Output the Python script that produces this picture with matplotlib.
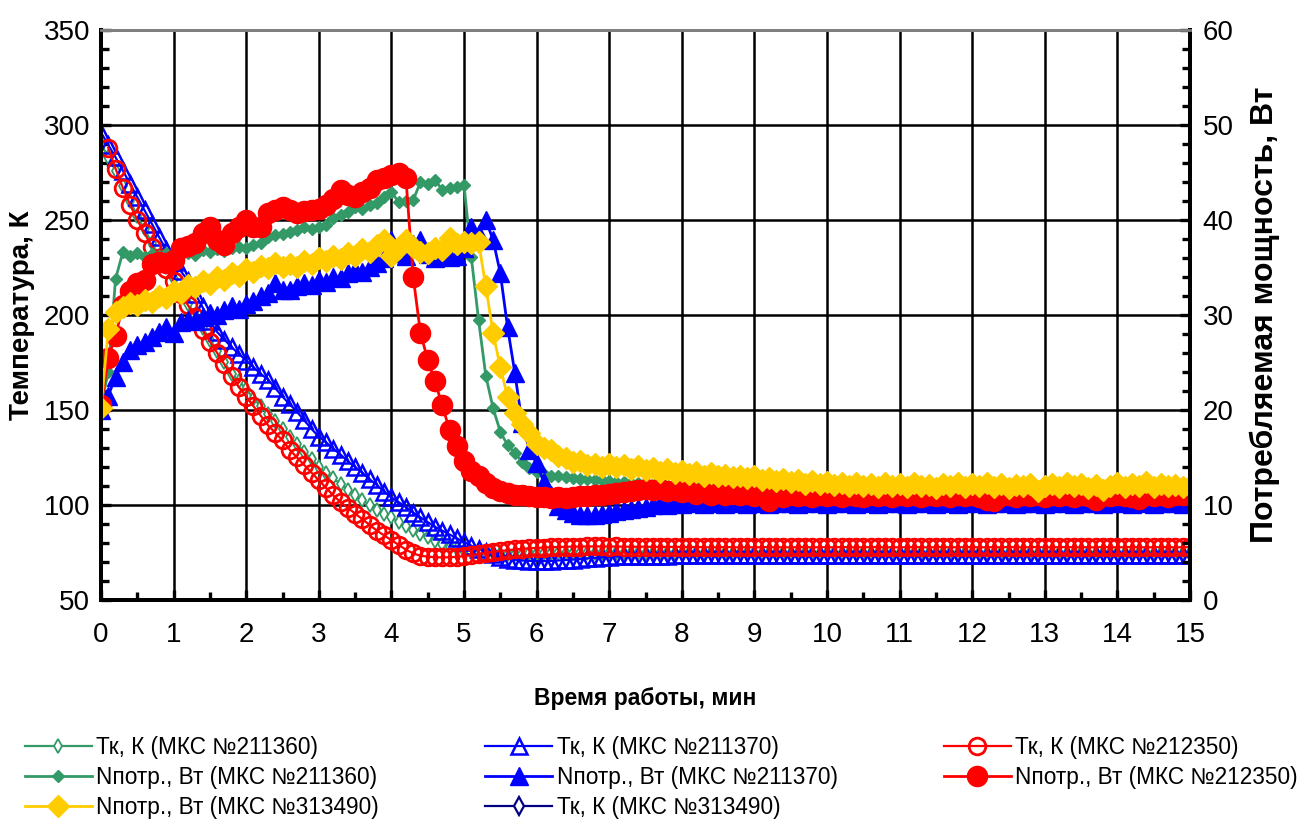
import numpy as np
import matplotlib
matplotlib.use('Agg')
import matplotlib.pyplot as plt
from matplotlib.ticker import MultipleLocator

plt.rcParams['font.family'] = ['Liberation Sans', 'DejaVu Sans']

# время, мин (шаг 0.1)
t = np.round(np.arange(151) * 0.1, 1)

# Тк, К (МКС №211360)
tk_211360 = [
    290, 283, 276, 268, 260, 252, 245, 238, 231, 225,
    219, 213, 206, 200, 193, 187, 181, 175, 169, 165,
    161, 156, 152, 148, 144, 140, 136, 132, 128, 124,
    120, 117, 114, 111, 108, 105, 102.5, 100, 97.5, 95.5,
    93.5, 91, 89, 87, 85, 83, 81, 79.5, 78, 77,
    76, 75.5, 75, 74.7, 74.5, 74.4, 74.3, 74.3, 74.4, 74.5,
    74.6, 74.7, 74.6, 74.8, 74.7, 74.8, 74.9, 74.8, 74.9, 74.8,
    74.9, 74.8, 75.0, 74.9, 74.8, 74.9, 74.8, 74.9, 74.8, 74.9,
    74.8, 74.9, 74.7, 74.8, 74.9, 74.8, 74.7, 74.8, 74.9, 74.8,
    74.7, 74.8, 74.9, 74.8, 74.7, 74.8, 74.8, 74.9, 74.8, 74.7,
    74.8, 74.9, 74.8, 74.7, 74.8, 74.9, 74.8, 74.7, 74.8, 74.8,
    74.9, 74.8, 74.7, 74.8, 74.9, 74.8, 74.8, 74.7, 74.8, 74.9,
    74.8, 74.7, 74.8, 74.9, 74.8, 74.7, 74.8, 74.8, 74.9, 74.8,
    74.7, 74.8, 74.9, 74.8, 74.8, 74.7, 74.8, 74.9, 74.8, 74.7,
    74.8, 74.9, 74.8, 74.7, 74.8, 74.8, 74.9, 74.8, 74.7, 74.8,
    74.8]

# Тк, К (МКС №211370)
tk_211370 = [
    296, 289.5, 283, 276, 269, 262, 255, 248, 241, 234,
    228, 223, 218, 211, 204, 197, 191, 187, 183, 179.5,
    176, 172.5, 169, 166, 161.5, 157, 153, 149, 144.5, 140,
    136, 133, 129.5, 126.5, 123, 120, 117, 113.5, 110.5, 107,
    104, 101.5, 99, 96, 93.5, 91, 88.5, 86.5, 84.5, 82.5,
    80.5, 78.5, 77, 75.5, 74, 72.8, 71.8, 71.2, 70.8, 70.6,
    70.5, 70.5, 70.6, 70.8, 71.0, 71.3, 71.6, 71.9, 72.2, 72.5,
    72.7, 72.9, 73.0, 73.1, 73.2, 73.3, 73.3, 73.4, 73.4, 73.5,
    73.5, 73.6, 73.5, 73.6, 73.7, 73.6, 73.7, 73.6, 73.7, 73.8,
    73.7, 73.8, 73.7, 73.8, 73.7, 73.8, 73.9, 73.8, 73.7, 73.8,
    73.8, 73.7, 73.8, 73.9, 73.8, 73.7, 73.8, 73.8, 73.9, 73.8,
    73.7, 73.8, 73.9, 73.8, 73.7, 73.8, 73.8, 73.7, 73.9, 73.8,
    73.8, 73.7, 73.8, 73.9, 73.8, 73.8, 73.7, 73.8, 73.9, 73.8,
    73.7, 73.8, 73.8, 73.9, 73.8, 73.7, 73.8, 73.9, 73.8, 73.8,
    73.7, 73.8, 73.9, 73.8, 73.7, 73.8, 73.8, 73.9, 73.8, 73.7,
    73.8]

# Тк, К (МКС №212350)
tk_212350 = [
    np.nan, 288, 277, 267, 258, 250, 243, 236, 230, 224,
    218, 211, 205, 199, 192, 186, 180, 174, 168, 162,
    157, 152, 147, 142, 138, 134, 129, 125, 121, 117,
    113, 109, 105, 101.5, 98.5, 95.5, 92.5, 89.5, 86.5, 84,
    81.5, 79, 76.5, 74.5, 73.3, 72.8, 72.5, 72.4, 72.5, 72.7,
    73.1, 73.6, 74.2, 74.8, 75.3, 75.8, 76.2, 76.6, 76.9, 77.2,
    77.4, 77.6, 77.8, 77.9, 78.0, 78.1, 78.1, 78.2, 78.2, 78.2,
    78.1, 78.2, 78.0, 78.1, 78.0, 78.1, 77.9, 78.0, 77.9, 78.0,
    77.9, 77.8, 77.9, 77.8, 77.7, 77.8, 77.9, 77.8, 77.7, 77.8,
    77.7, 77.8, 77.9, 77.7, 77.8, 77.7, 77.8, 77.9, 77.7, 77.8,
    77.8, 77.7, 77.9, 77.8, 77.7, 77.8, 77.8, 77.9, 77.7, 77.8,
    77.7, 77.8, 77.9, 77.8, 77.7, 77.8, 77.9, 77.7, 77.8, 77.8,
    77.9, 77.7, 77.8, 77.8, 77.7, 77.9, 77.8, 77.7, 77.8, 77.9,
    77.7, 77.8, 77.8, 77.9, 77.7, 77.8, 77.8, 77.7, 77.9, 77.8,
    77.7, 77.8, 77.9, 77.8, 77.7, 77.8, 77.8, 77.9, 77.7, 77.8,
    77.8]

# Nпотр., Вт (МКС №211360)
n_211360 = [
    20.5, 24.0, 33.8, 36.6, 36.2, 36.5, 36.1, 36.4, 36.2, 36.5,
    36.1, 36.4, 36.5, 36.3, 36.8, 36.6, 36.9, 36.7, 37.0, 37.2,
    37.1, 37.4, 37.6, 38.2, 38.4, 38.5, 38.7, 38.9, 39.3, 39.1,
    39.3, 39.5, 40.2, 40.5, 40.8, 41.4, 41.2, 41.6, 41.8, 42.4,
    42.9, 41.9, 42.0, 42.1, 44.0, 43.8, 44.2, 43.2, 43.4, 43.5,
    43.7, 36.1, 29.5, 23.6, 20.2, 17.7, 16.3, 15.5, 14.5, 13.9,
    13.5, 13.3, 13.1, 13.0, 12.9, 12.8, 12.7, 12.7, 12.6, 12.6,
    12.5, 12.4, 12.4, 12.3, 12.3, 12.2, 12.2, 12.1, 12.1, 12.0,
    12.0, 11.9, 12.0, 11.9, 11.8, 11.9, 11.8, 11.9, 11.8, 11.7,
    11.8, 11.9, 11.7, 11.8, 11.9, 11.8, 11.7, 11.8, 11.9, 11.8,
    11.7, 11.8, 11.9, 11.8, 11.7, 11.8, 11.8, 11.9, 11.7, 11.8,
    11.9, 11.8, 11.7, 11.8, 11.9, 11.8, 11.7, 11.8, 11.8, 11.9,
    11.8, 11.7, 11.8, 11.9, 11.8, 11.7, 11.8, 11.9, 11.8, 11.7,
    11.8, 11.9, 11.8, 11.7, 11.8, 11.8, 11.9, 11.7, 11.8, 11.9,
    11.8, 11.7, 11.8, 11.9, 11.8, 11.7, 11.8, 11.8, 11.9, 11.8,
    11.8]

# Nпотр., Вт (МКС №211370)
n_211370 = [
    20.0, 21.5, 23.5, 25.0, 26.3, 26.8, 27.2, 27.7, 28.2, 28.7,
    28.1, 29.3, 29.5, 29.4, 29.8, 30.2, 30.0, 30.5, 30.9, 30.6,
    31.2, 31.5, 32.0, 32.3, 33.4, 32.6, 32.6, 33.0, 33.4, 33.2,
    33.7, 33.5, 34.0, 33.9, 34.4, 34.7, 34.5, 35.1, 35.5, 36.0,
    37.9, 36.5, 36.2, 37.5, 37.9, 36.4, 36.0, 36.3, 36.1, 36.2,
    37.0, 39.3, 38.5, 40.0, 37.9, 34.4, 28.7, 23.9, 18.6, 15.8,
    14.4, 12.4, 11.0, 9.9, 9.5, 9.2, 9.0, 8.9, 9.0, 9.1,
    9.2, 9.4, 9.5, 9.6, 9.7, 9.8, 10.0, 10.1, 10.0, 10.2,
    10.1, 10.3, 10.2, 10.1, 10.3, 10.2, 10.1, 10.2, 10.3, 10.1,
    10.2, 10.3, 10.1, 10.2, 10.3, 10.2, 10.1, 10.2, 10.3, 10.2,
    10.1, 10.2, 10.3, 10.2, 10.1, 10.3, 10.2, 10.1, 10.2, 10.3,
    10.2, 10.1, 10.2, 10.3, 10.2, 10.1, 10.2, 10.3, 10.1, 10.2,
    10.3, 10.2, 10.1, 10.2, 10.3, 10.2, 10.1, 10.2, 10.2, 10.3,
    10.1, 10.2, 10.3, 10.2, 10.1, 10.2, 10.3, 10.2, 10.1, 10.2,
    10.3, 10.2, 10.1, 10.2, 10.3, 10.1, 10.2, 10.3, 10.2, 10.1,
    10.2]

# Nпотр., Вт (МКС №212350)
n_212350 = [
    20.5, 25.5, 27.8, 31.0, 32.5, 33.4, 33.7, 35.4, 35.6, 35.5,
    35.8, 37.0, 37.3, 37.6, 38.6, 39.3, 37.9, 37.4, 38.6, 39.3,
    40.0, 39.3, 39.3, 40.7, 41.0, 41.4, 41.0, 40.7, 40.9, 41.0,
    41.2, 41.6, 42.2, 43.2, 42.6, 42.4, 42.9, 43.4, 44.2, 44.4,
    44.7, 44.9, 44.4, 34.0, 28.1, 25.3, 23.0, 20.5, 17.9, 16.2,
    14.6, 13.6, 13.0, 12.3, 11.8, 11.5, 11.3, 11.1, 11.0, 10.9,
    10.8, 10.8, 10.7, 10.8, 10.7, 10.8, 10.9, 10.9, 11.0, 11.1,
    11.2, 11.3, 11.4, 11.5, 11.6, 11.7, 11.6, 11.7, 11.5, 11.6,
    11.4, 11.5, 11.2, 11.4, 11.1, 11.3, 11.0, 11.2, 11.0, 11.2,
    10.9, 11.1, 10.4, 11.0, 10.8, 11.1, 10.9, 11.0, 10.8, 11.1,
    10.9, 11.0, 10.8, 11.1, 10.9, 10.8, 11.0, 10.9, 11.1, 10.8,
    11.0, 10.9, 11.1, 10.8, 11.0, 10.9, 11.0, 10.8, 11.1, 10.9,
    11.0, 10.8, 10.5, 10.4, 10.9, 11.0, 10.8, 11.1, 10.9, 11.0,
    10.8, 11.1, 10.9, 11.0, 10.8, 11.0, 10.9, 10.5, 11.0, 10.9,
    11.1, 10.9, 10.8, 10.6, 11.0, 10.9, 11.1, 10.8, 11.0, 11.0,
    11.0]

# Nпотр., Вт (МКС №313490)
n_313490 = [
    20.2, 28.5, 30.3, 30.8, 31.3, 31.0, 31.6, 31.4, 32.0, 31.8,
    32.5, 32.3, 33.2, 32.9, 33.6, 33.3, 34.0, 33.7, 34.4, 34.1,
    34.8, 34.5, 35.2, 34.9, 35.5, 35.0, 35.4, 35.1, 35.7, 35.4,
    36.0, 35.7, 36.2, 35.9, 36.5, 36.2, 36.9, 36.6, 37.4, 37.9,
    36.2, 37.0, 37.9, 37.2, 36.6, 36.5, 37.0, 36.8, 38.1, 37.5,
    37.7, 37.6, 37.7, 33.0, 28.1, 24.5, 21.4, 19.7, 18.5, 17.6,
    16.4, 16.0, 15.8, 15.2, 14.9, 14.5, 14.6, 14.2, 14.3, 14.0,
    14.3, 14.0, 14.2, 13.8, 14.1, 13.7, 13.9, 13.5, 13.8, 13.4,
    13.6, 13.3, 13.5, 13.1, 13.4, 13.0, 13.2, 12.9, 13.1, 12.8,
    13.0, 12.6, 12.8, 12.5, 12.7, 12.4, 12.6, 12.2, 12.5, 12.2,
    12.4, 12.1, 12.3, 12.0, 12.3, 12.0, 12.2, 11.9, 12.3, 12.0,
    12.2, 11.9, 12.3, 12.0, 12.1, 11.8, 12.2, 12.0, 12.3, 11.9,
    12.2, 12.0, 12.3, 11.9, 12.2, 11.8, 12.1, 12.0, 12.2, 11.5,
    12.0, 12.2, 11.9, 12.3, 12.0, 12.2, 11.8, 12.1, 11.6, 12.0,
    12.3, 11.9, 12.2, 12.0, 12.4, 11.9, 12.2, 12.0, 12.1, 11.9,
    12.0]

# Тк, К (МКС №313490) - на графике не видна
tk_313490 = []

for s in [tk_211360, tk_211370, tk_212350, n_211360, n_211370, n_212350, n_313490]:
    assert len(s) == len(t), len(s)

green = '#339966'
blue = '#0000FF'
red = '#FF0000'
yellow = '#FFCC00'
navy = '#000080'

fig = plt.figure(figsize=(12.97, 8.30), dpi=100)
fig.subplots_adjust(left=0.0779, right=0.9175, bottom=0.2771, top=0.9639)
ax = fig.add_subplot(111)
ax2 = ax.twinx()

h1, = ax.plot(t, tk_211360, color=green, lw=1.6, marker='d', ms=7, mfc='white', mew=1.3,
              label='Тк, К (МКС №211360)')
h2, = ax.plot(t, tk_211370, color=blue, lw=1.6, marker='^', ms=11, mfc='none', mew=1.8,
              label='Тк, К (МКС №211370)')
h3, = ax.plot(t, tk_212350, color=red, lw=1.6, marker='o', ms=12, mfc='none', mew=2,
              label='Тк, К (МКС №212350)')
h4, = ax2.plot(t, n_211360, color=green, lw=2, marker='D', ms=6,
               label='Nпотр., Вт (МКС №211360)')
h5, = ax2.plot(t, n_211370, color=blue, lw=2, marker='^', ms=13,
               label='Nпотр., Вт (МКС №211370)')
h6, = ax2.plot(t, n_212350, color=red, lw=2, marker='o', ms=14.5,
               label='Nпотр., Вт (МКС №212350)')
h7, = ax2.plot(t, n_313490, color=yellow, lw=2, marker='D', ms=11,
               label='Nпотр., Вт (МКС №313490)')
h8, = ax.plot(t[:len(tk_313490)], tk_313490, color=navy, lw=1.6, marker='d', ms=9,
              mfc='white', mew=1.6, label='Тк, К (МКС №313490)')

ax.set_xlim(0, 15)
ax.set_ylim(50, 350)
ax2.set_ylim(0, 60)

ax.xaxis.set_major_locator(MultipleLocator(1))
ax.xaxis.set_minor_locator(MultipleLocator(0.5))
ax.yaxis.set_major_locator(MultipleLocator(50))
ax.yaxis.set_minor_locator(MultipleLocator(10))
ax2.yaxis.set_major_locator(MultipleLocator(10))
ax2.yaxis.set_minor_locator(MultipleLocator(2))

ax.grid(which='major', color='black', lw=1.8)
ax.set_axisbelow(True)

ax.tick_params(axis='both', which='both', direction='in', labelsize=20, width=2.4,
               colors='black')
ax.tick_params(axis='both', which='major', length=7)
ax.tick_params(axis='both', which='minor', length=5.5)
ax.tick_params(axis='x', pad=16)
ax.tick_params(axis='y', pad=8)
ax2.tick_params(axis='y', which='both', direction='in', labelsize=20, width=2.4, pad=9)
ax2.tick_params(axis='y', which='major', length=7)
ax2.tick_params(axis='y', which='minor', length=5.5)

for a in (ax, ax2):
    for side in ('left', 'bottom', 'right'):
        a.spines[side].set_linewidth(2.8)
        a.spines[side].set_color('black')
    a.spines['top'].set_color('#808080')
    a.spines['top'].set_linewidth(2)

ax.set_xlabel('Время работы, мин', fontsize=16.5, fontweight='bold', labelpad=28)
ax.set_ylabel('Температура, К', fontsize=20, fontweight='bold', labelpad=6)
ax2.set_ylabel('Потребляемая мощность, Вт', fontsize=23, fontweight='bold', labelpad=12)

# порядок как в легенде исходника (по строкам)
handles = [h1, h4, h7, h2, h5, h8, h3, h6]
fig.legend(handles=handles, labels=[h.get_label() for h in handles], ncol=3,
           loc='center', bbox_to_anchor=(0.51, 0.063), frameon=False, fontsize=16.3,
           handlelength=2.95, columnspacing=4.7, labelspacing=0.3, handletextpad=0.2,
           borderpad=0)

fig.savefig('out.png', dpi=100)
